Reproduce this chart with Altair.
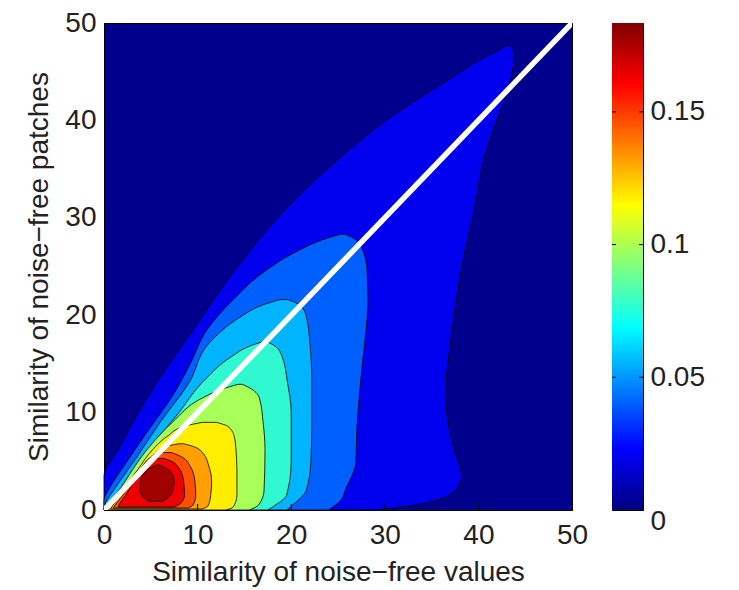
import altair as alt
import pandas as pd

# ---- filled-contour regions: for each y, the x-extent [xlo, xhi]
L1_y   = [0, 0.8, 2.1, 3.5, 6.2, 11.7, 18.5, 25.3, 31.0, 36.5, 40.6, 44.0, 46.4, 47.3, 47.7]
L1_xlo = [0, 0, 0, 0, 1.5, 4.7, 9.5, 14.5, 19.5, 25.6, 31.0, 36.5, 40.5, 42.3, 43.0]
L1_xhi = [29.4, 34.7, 37.6, 38.2, 37.4, 36.5, 37.2, 38.3, 39.6, 40.7, 42.2, 43.4, 43.8, 43.7, 43.3]

L2_y   = [0, 1.0, 2.1, 4.9, 8.0, 12.0, 15.0, 18.5, 21.5, 24.6, 26.5, 27.8, 28.3]
L2_xlo = [0, 0, 0.5, 2.4, 4.6, 7.5, 9.2, 11.0, 13.7, 17.3, 20.5, 23.5, 25.2]
L2_xhi = [24.0, 25.3, 25.8, 26.9, 27.0, 27.3, 27.6, 28.0, 28.2, 28.1, 27.7, 26.8, 25.8]

L3_y   = [0, 0.8, 2.0, 5.0, 9.0, 13.1, 17.1, 19.9, 21.0, 21.6]
L3_xlo = [0, 0.2, 1.0, 3.2, 6.0, 9.1, 11.2, 14.7, 16.8, 18.8]
L3_xhi = [19.5, 20.5, 21.6, 22.1, 22.2, 22.2, 22.0, 21.6, 21.0, 19.6]

L4_y   = [0, 0.5, 1.5, 5.0, 10.0, 13.1, 15.8, 16.8, 17.3]
L4_xlo = [0.1, 0.5, 1.3, 3.8, 8.0, 10.5, 13.7, 15.5, 17.0]
L4_xhi = [17.5, 18.3, 19.5, 20.0, 20.0, 19.6, 19.0, 18.3, 17.4]

L5_y   = [0, 0.5, 2.0, 6.2, 9.0, 11.5, 12.4, 12.9]
L5_xlo = [0.2, 0.5, 1.6, 4.6, 7.3, 10.5, 12.6, 14.3]
L5_xhi = [15.5, 16.5, 17.1, 17.2, 17.0, 16.6, 15.8, 14.8]

L6_y   = [0, 0.3, 1.5, 4.0, 6.2, 7.6, 8.6, 9.0]
L6_xlo = [0.4, 0.6, 1.5, 3.5, 5.2, 6.8, 8.6, 10.5]
L6_xhi = [13.0, 13.8, 14.2, 14.2, 14.1, 13.9, 13.2, 12.0]

L7_y   = [0.1, 0.4, 1.5, 3.0, 4.5, 5.8, 6.5, 6.8]
L7_xlo = [0.7, 0.9, 1.7, 2.9, 4.2, 5.4, 6.5, 8.0]
L7_xhi = [10.5, 11.1, 11.4, 11.5, 11.2, 10.6, 9.6, 8.5]

L8_y   = [0.2, 0.5, 1.5, 3.0, 4.5, 5.4, 5.9]
L8_xlo = [1.0, 1.2, 2.0, 3.0, 4.1, 5.0, 6.2]
L8_xhi = [9.0, 9.5, 9.8, 9.7, 9.2, 8.4, 7.2]

L9_y   = [0.3, 0.7, 1.5, 3.0, 4.3, 5.0, 5.3]
L9_xlo = [1.5, 1.7, 2.3, 3.2, 4.1, 4.9, 5.8]
L9_xhi = [7.5, 8.2, 8.6, 8.5, 8.0, 7.2, 6.4]

L10_y   = [0.9, 1.4, 2.2, 3.0, 3.8, 4.3, 4.6]
L10_xlo = [4.8, 4.1, 3.8, 3.9, 4.3, 4.9, 5.6]
L10_xhi = [6.2, 7.0, 7.4, 7.5, 7.2, 6.6, 6.0]

level_names = ["L1", "L2", "L3", "L4", "L5", "L6", "L7", "L8", "L9", "L10"]
level_colors = ["#0000EE", "#0060FF", "#00B4FF", "#30F8D0", "#A8FF58",
                "#FFEE00", "#FFA000", "#FF5000", "#EE0000", "#A00000"]
background_color = "#00008C"

diag_x = [0, 50]
diag_y = [0, 50]

x_ticks = [0, 10, 20, 30, 40, 50]
y_ticks = [0, 10, 20, 30, 40, 50]

cb_min, cb_max = 0.0, 0.1835
cb_ticks = [0, 0.05, 0.1, 0.15]

# ---- build table
regions = {
    "L1": (L1_y, L1_xlo, L1_xhi), "L2": (L2_y, L2_xlo, L2_xhi),
    "L3": (L3_y, L3_xlo, L3_xhi), "L4": (L4_y, L4_xlo, L4_xhi),
    "L5": (L5_y, L5_xlo, L5_xhi), "L6": (L6_y, L6_xlo, L6_xhi),
    "L7": (L7_y, L7_xlo, L7_xhi), "L8": (L8_y, L8_xlo, L8_xhi),
    "L9": (L9_y, L9_xlo, L9_xhi), "L10": (L10_y, L10_xlo, L10_xhi),
}
rows = []
for name in level_names:
    ys, xl, xh = regions[name]
    for a, b, c in zip(ys, xl, xh):
        rows.append({"level": name, "y": a, "xlo": b, "xhi": c})
df = pd.DataFrame(rows)

FONT = "Liberation Sans"
LABEL_SIZE = 28
TITLE_SIZE = 28
TXT = "#222222"
PLOT_H = 487

xs = alt.Scale(domain=[0, 50], nice=False, zero=False)
ys_ = alt.Scale(domain=[0, 50], nice=False, zero=False)
xaxis = alt.Axis(values=x_ticks, title="Similarity of noise\u2212free values", grid=False,
                 ticks=False, tickSize=0, labelPadding=11, titlePadding=9,
                 labelFontSize=LABEL_SIZE, titleFontSize=TITLE_SIZE, labelFont=FONT, titleFont=FONT,
                 titleFontWeight="normal", labelColor=TXT, titleColor=TXT,
                 domainColor="black", labelFlush=False)
yaxis = alt.Axis(values=y_ticks, title="Similarity of noise\u2212free patches", grid=False,
                 ticks=False, tickSize=0, labelPadding=8, titlePadding=11,
                 labelFontSize=LABEL_SIZE, titleFontSize=TITLE_SIZE, labelFont=FONT, titleFont=FONT,
                 titleFontWeight="normal", labelColor=TXT, titleColor=TXT,
                 domainColor="black", labelFlush=False)
cscale = alt.Scale(domain=level_names, range=level_colors)

layers = []
for name in level_names:
    layers.append(
        alt.Chart(df).transform_filter(alt.datum.level == name)
        .mark_area(orient="horizontal", interpolate="monotone", stroke="black", strokeWidth=0.8)
        .encode(
            x=alt.X("xlo:Q", scale=xs, axis=xaxis),
            x2="xhi:Q",
            y=alt.Y("y:Q", scale=ys_, axis=yaxis),
            color=alt.Color("level:N", scale=cscale, legend=None),
        )
    )

diag = alt.Chart(pd.DataFrame({"xlo": diag_x, "y": diag_y})).mark_line(
    color="white", strokeWidth=5.5, clip=True
).encode(x=alt.X("xlo:Q", scale=xs, axis=xaxis), y=alt.Y("y:Q", scale=ys_, axis=yaxis))

xt = alt.Chart(pd.DataFrame({"xlo": x_ticks[1:-1]})).mark_rule(color="black", strokeWidth=1).encode(
    x=alt.X("xlo:Q", scale=xs, axis=xaxis), y=alt.value(PLOT_H), y2=alt.value(PLOT_H - 6))

main = alt.layer(*layers, diag, xt).properties(width=468, height=PLOT_H)

grad = alt.LinearGradient(
    gradient="linear", x1=0, x2=0, y1=1, y2=0,
    stops=[alt.GradientStop(color="#000080", offset=0),
           alt.GradientStop(color="#0000FF", offset=0.125),
           alt.GradientStop(color="#00FFFF", offset=0.375),
           alt.GradientStop(color="#FFFF00", offset=0.625),
           alt.GradientStop(color="#FF0000", offset=0.875),
           alt.GradientStop(color="#800000", offset=1.0)])

cbs = alt.Scale(domain=[cb_min, cb_max], nice=False, zero=False)
cbaxis = alt.Axis(orient="right", values=cb_ticks, format=".2~f", title="", grid=False,
                  ticks=False, tickSize=0, labelPadding=7, domain=False,
                  labelOffset={"condition": {"test": "datum.value == 0", "value": 11}, "value": 0},
                  labelFontSize=LABEL_SIZE, labelFont=FONT, labelColor=TXT, labelFlush=False)
cbar = alt.Chart(pd.DataFrame({"lo": [cb_min], "hi": [cb_max]})).mark_rect(color=grad).encode(
    y=alt.Y("lo:Q", scale=cbs, axis=cbaxis), y2="hi:Q", x=alt.value(0), x2=alt.value(31))
cbt_df = pd.DataFrame({"lo": cb_ticks[1:]})
cbt1 = alt.Chart(cbt_df).mark_rule(color="black", strokeWidth=1).encode(
    y=alt.Y("lo:Q", scale=cbs, axis=cbaxis), x=alt.value(0), x2=alt.value(4))
cbt2 = alt.Chart(cbt_df).mark_rule(color="black", strokeWidth=1).encode(
    y=alt.Y("lo:Q", scale=cbs, axis=cbaxis), x=alt.value(27), x2=alt.value(31))
colorbar = alt.layer(cbar, cbt1, cbt2).properties(width=31, height=PLOT_H)

chart = alt.hconcat(main, colorbar, spacing=40, bounds="flush").properties(
    padding={"left": 17, "top": 0, "right": 5, "bottom": 5}
).configure_view(fill=background_color, stroke="black", strokeWidth=1)

chart.save("out.html", embed_options={"renderer": "svg", "actions": False})
